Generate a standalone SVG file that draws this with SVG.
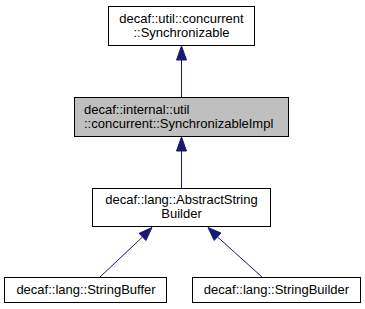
<svg xmlns="http://www.w3.org/2000/svg" width="365" height="309" viewBox="0 0 365 309">
  <style>
    .box { fill: #ffffff; stroke: #000000; stroke-width: 1; }
    .cur { fill: #bfbfbf; }
    .lbl { font-family: "Liberation Sans", Arial, sans-serif; font-size: 13px; fill: #000000; }
    .c { text-anchor: middle; }
    .edge { stroke: #191970; stroke-width: 1; fill: none; }
    .head { fill: #191970; stroke: #191970; stroke-width: 1; }
  </style>
  <rect width="365" height="309" fill="#ffffff"/>

  <g id="connectors">
    <!-- SynchronizableImpl -> Synchronizable -->
    <path class="edge" d="M181.5,97 L181.5,59"/>
    <polygon class="head" points="181.5,46 176.5,60 186.5,60"/>
    <!-- AbstractStringBuilder -> SynchronizableImpl -->
    <path class="edge" d="M181.5,188 L181.5,150"/>
    <polygon class="head" points="181.5,137 176.5,151 186.5,151"/>
    <!-- StringBuffer -> AbstractStringBuilder -->
    <path class="edge" d="M100,277 L142.5,237"/>
    <polygon class="head" points="152,227.5 139.1,233.3 145.9,240.5"/>
    <!-- StringBuilder -> AbstractStringBuilder -->
    <path class="edge" d="M262,277 L217.6,237"/>
    <polygon class="head" points="208,227.5 214.2,240.4 221,233"/>
  </g>

  <g id="node-synchronizable">
    <rect class="box" x="108.5" y="6.5" width="146" height="39"/>
    <text class="lbl c" x="181.5" y="23">decaf::util::concurrent</text>
    <text class="lbl c" x="181.5" y="37">::Synchronizable</text>
  </g>

  <g id="node-synchronizableimpl">
    <rect class="box cur" x="74.5" y="97.5" width="214" height="39"/>
    <text class="lbl" x="84" y="114">decaf::internal::util</text>
    <text class="lbl" x="84" y="128">::concurrent::SynchronizableImpl</text>
  </g>

  <g id="node-abstractstringbuilder">
    <rect class="box" x="92.5" y="188.5" width="178" height="38"/>
    <text class="lbl c" x="181.5" y="204">decaf::lang::AbstractString</text>
    <text class="lbl c" x="181.5" y="218">Builder</text>
  </g>

  <g id="node-stringbuffer">
    <rect class="box" x="4.5" y="277.5" width="162" height="25"/>
    <text class="lbl c" x="86" y="294">decaf::lang::StringBuffer</text>
  </g>

  <g id="node-stringbuilder">
    <rect class="box" x="192.5" y="277.5" width="168" height="25"/>
    <text class="lbl c" x="276.5" y="294">decaf::lang::StringBuilder</text>
  </g>
</svg>
